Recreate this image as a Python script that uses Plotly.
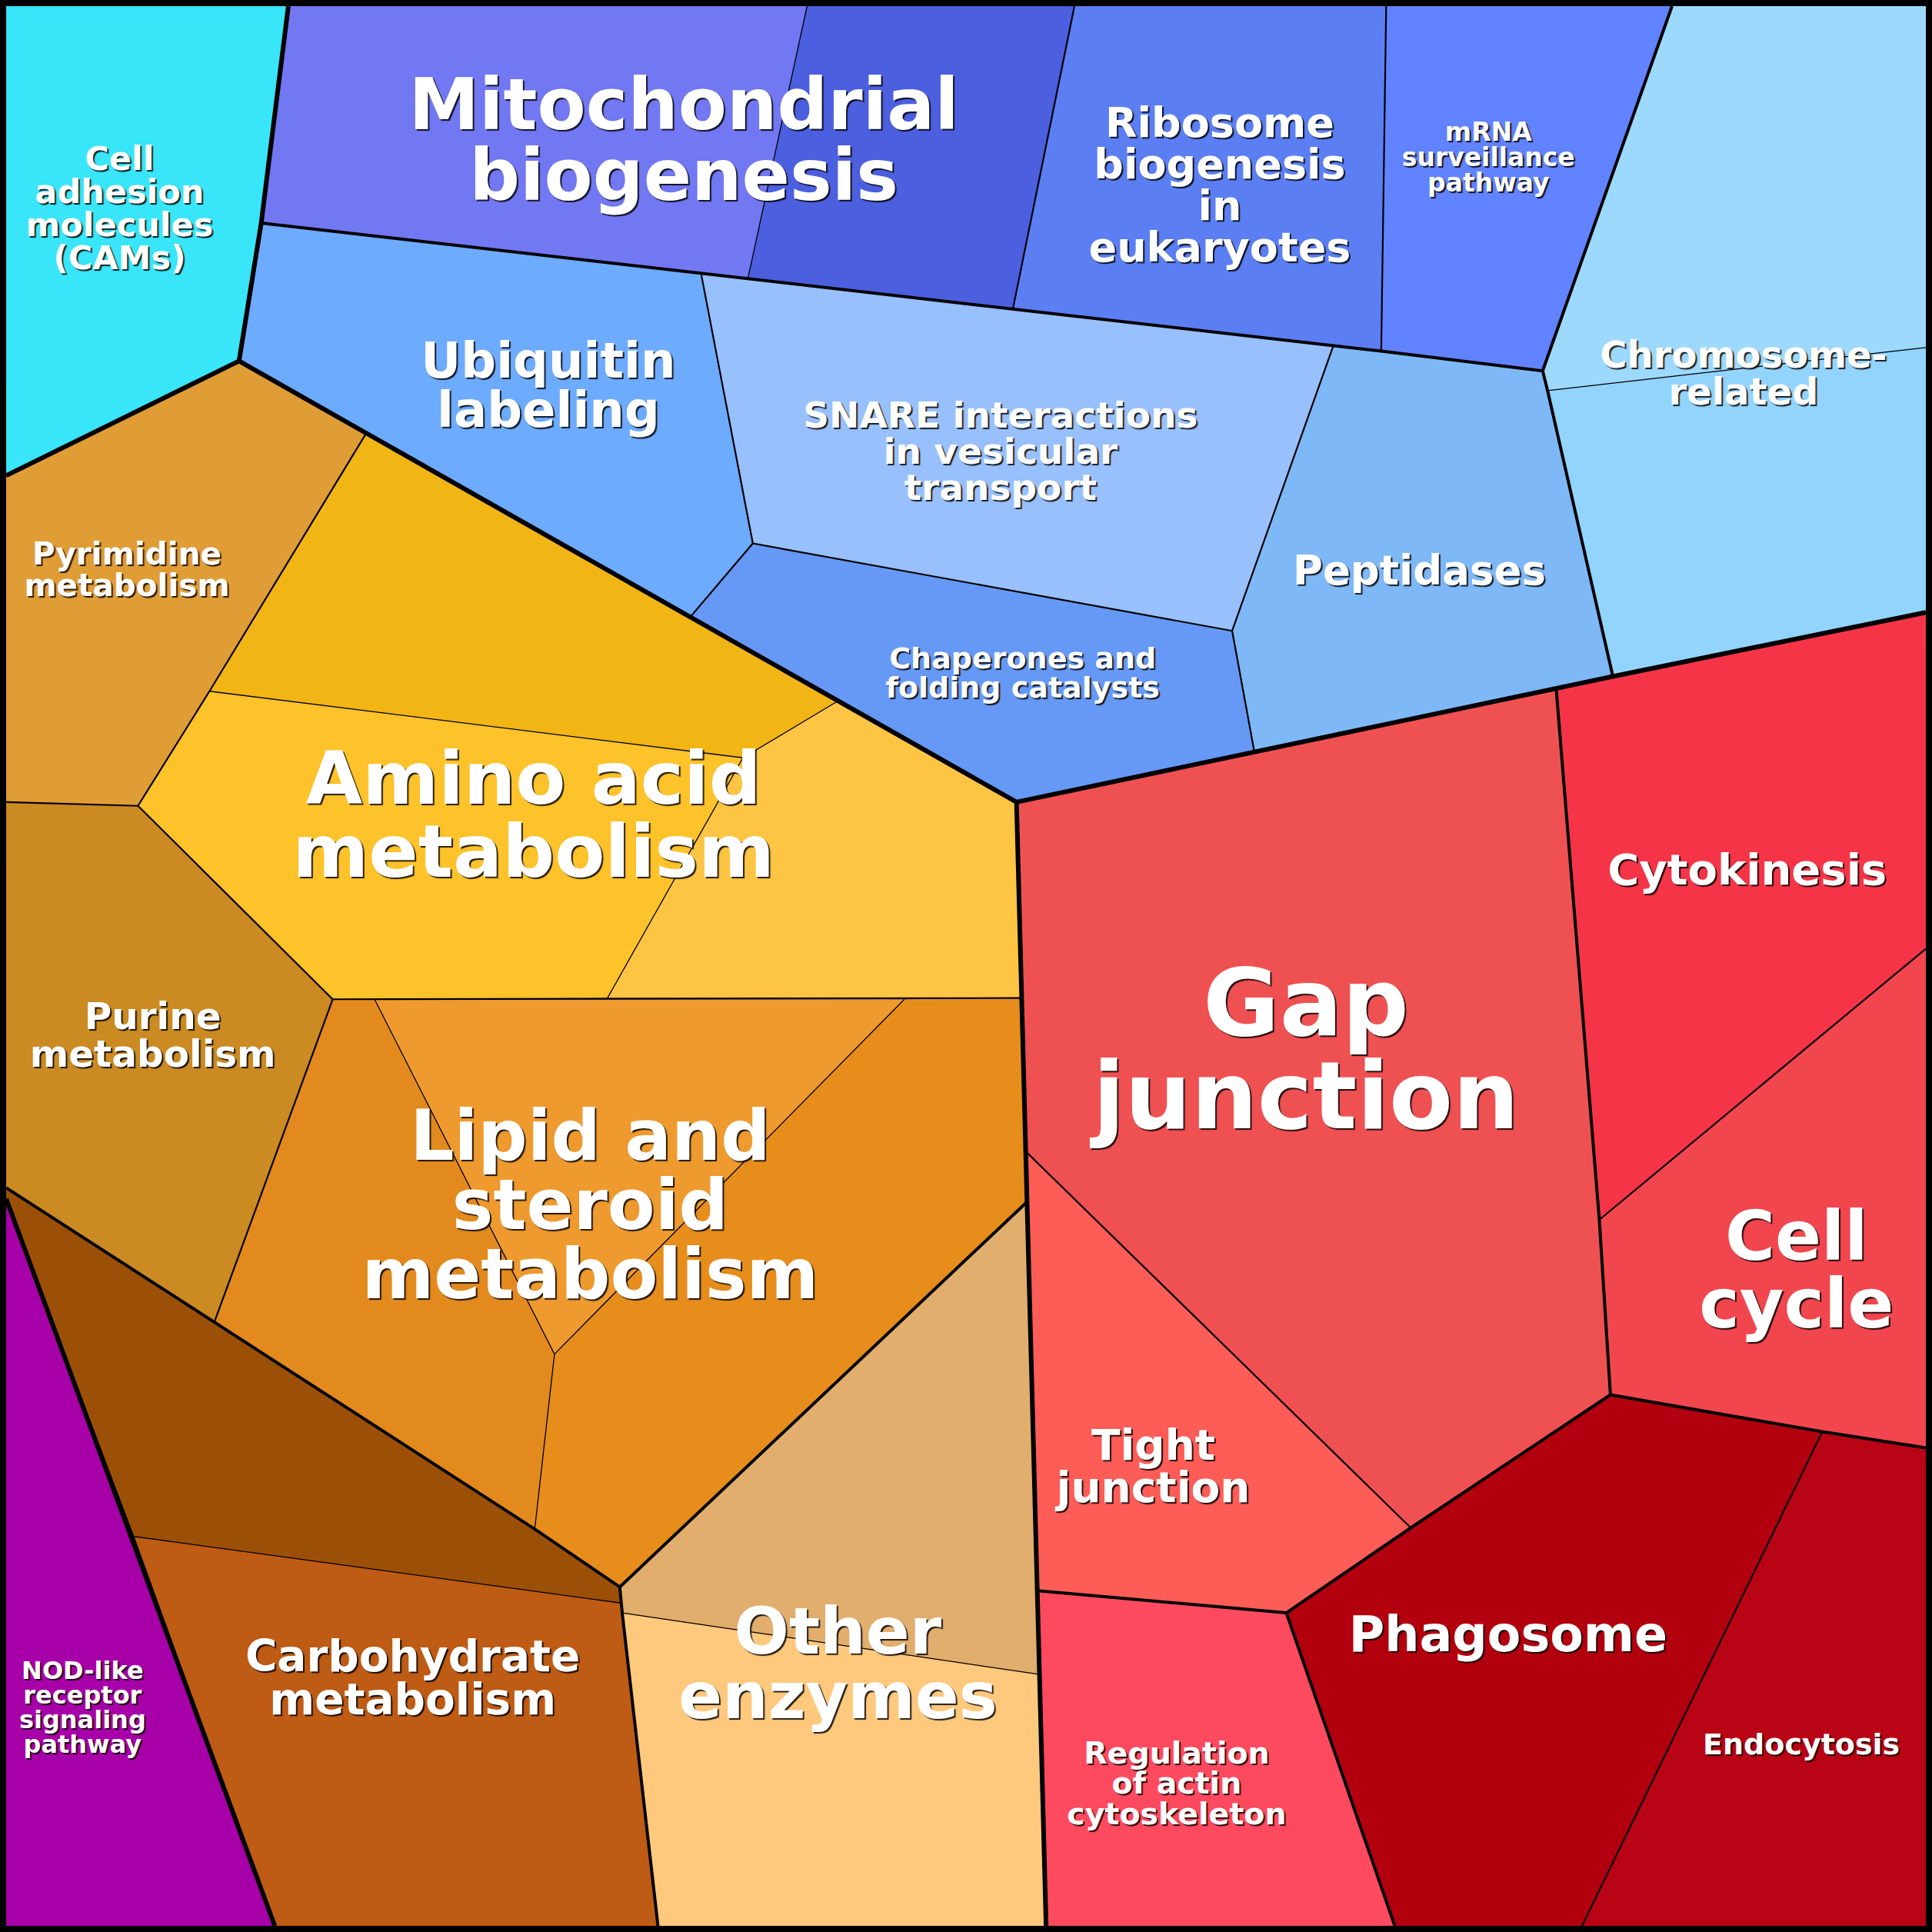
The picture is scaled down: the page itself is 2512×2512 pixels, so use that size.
import plotly.graph_objects as go

# cell corners, in a 1568 x 1568 frame (y grows downward)
pts = {
    "TL": (5, 5), "TR": (1563, 5), "BR": (1563, 1563), "BL": (5, 1563),
    "a1": (234, 5), "a2": (655, 5), "a3": (872, 5), "a4": (1125, 5), "a5": (1357, 5),
    "l1": (5, 386), "l2": (5, 651), "l3": (5, 964), "l4": (5, 973),
    "r1": (1563, 282), "r2": (1563, 497), "r3": (1563, 770), "r4": (1563, 1175),
    "b1": (223, 1563), "b2": (534, 1563), "b3": (849, 1563), "b4": (1132, 1563), "b5": (1284, 1563),
    "pB": (194, 293), "D": (212, 181),
    "m1": (607, 226), "m2": (822, 251), "m3": (1121, 285), "m4": (1252, 301),
    "s1": (569, 222), "s2": (1082, 281), "s3": (611, 441), "s4": (560, 501),
    "s5": (1000, 512), "s6": (1018, 610),
    "c1": (1256, 317), "c2": (1309, 549),
    "g0": (825, 651),
    "y1": (297, 352), "y2": (680, 569), "y3": (603, 615), "y4": (170, 561),
    "y5": (112, 654), "y6": (270, 811), "y7": (493, 810), "y8": (829, 810),
    "y9": (304, 811), "y10": (734, 811), "y11": (450, 1099), "y12": (434, 1241),
    "y13": (174, 1073), "y14": (503, 1288), "y15": (834, 975), "y16": (504, 1301),
    "y17": (109, 1247), "y18": (505, 1309), "y19": (844, 1359),
    "g1": (1263, 559), "g2": (1298, 990), "g3": (1307, 1132), "g4": (1145, 1240),
    "g5": (833, 935), "g6": (1044, 1309), "g7": (842, 1291), "g8": (1479, 1162),
}

cell_names = [
    "Cell adhesion molecules", "Mito 1", "Mito 2", "Ribosome", "mRNA",
    "Chromosome 1", "Chromosome 2", "Ubiquitin", "SNARE", "Chaperones", "Peptidases",
    "Pyrimidine", "Amino 1", "Amino 2", "Amino 3", "Purine",
    "Lipid 1", "Lipid 2", "Lipid 3", "Carbohydrate 1", "Carbohydrate 2",
    "Other 1", "Other 2", "NOD-like",
    "Gap junction", "Tight junction", "Cytokinesis", "Cell cycle",
    "Phagosome", "Endocytosis", "Regulation of actin",
]

cell_colors = [
    "#38E5F9", "#7277F2", "#4B5FDF", "#5B7FF3", "#6283FF",
    "#9DD9FC", "#93D4FD", "#6DABFF", "#98C0FC", "#6699F6", "#7EB8F6",
    "#E09D36", "#F2B516", "#FEC22A", "#FEC444", "#CB8A22",
    "#E38A1E", "#EE9A2E", "#E68D1C", "#9C5007", "#BE5B14",
    "#E1AE6E", "#FEC97D", "#A800A8",
    "#EF5152", "#FD5C57", "#F53547", "#F2464F",
    "#B2000F", "#B80414", "#FE4A5F",
]

cell_corners = [
    ["TL", "a1", "D", "pB", "l1"],
    ["a1", "a2", "m1", "D"],
    ["a2", "a3", "m2", "m1"],
    ["a3", "a4", "m3", "m2"],
    ["a4", "a5", "m4", "m3"],
    ["a5", "TR", "r1", "c1", "m4"],
    ["c1", "r1", "r2", "c2"],
    ["D", "s1", "s3", "s4", "pB"],
    ["s1", "m1", "m2", "s2", "s5", "s3"],
    ["s3", "s5", "s6", "g0", "s4"],
    ["s2", "m3", "m4", "c1", "c2", "s6", "s5"],
    ["l1", "pB", "y1", "y4", "y5", "l2"],
    ["y1", "y2", "y3", "y4"],
    ["y4", "y3", "y7", "y6", "y5"],
    ["y2", "g0", "y8", "y7", "y3"],
    ["l2", "y5", "y6", "y13", "l3"],
    ["y6", "y9", "y11", "y12", "y13"],
    ["y9", "y10", "y11"],
    ["y10", "y8", "y15", "y14", "y12", "y11"],
    ["l3", "y13", "y12", "y14", "y16", "y17", "l4"],
    ["y17", "y16", "b2", "b1"],
    ["y14", "y15", "y19", "y18"],
    ["y18", "y19", "b3", "b2"],
    ["l4", "b1", "BL"],
    ["g0", "g1", "g2", "g3", "g4", "g5"],
    ["g5", "g4", "g6", "g7"],
    ["g1", "r2", "r3", "g2"],
    ["g2", "r3", "r4", "g8", "g3"],
    ["g3", "g8", "b5", "b4", "g6", "g4"],
    ["g8", "r4", "BR", "b5"],
    ["g7", "g6", "b4", "b3"],
]

# borders between groups, by depth in the hierarchy (1 = top level)
borders = {
    1: [["pB", "l1"], ["a1", "D", "pB"], ["pB", "g0"], ["g0", "g1", "c2", "r2"],
        ["g0", "b3"], ["l4", "b1"]],
    2: [["D", "m1", "m2", "m3", "m4"], ["a5", "m4", "c1", "c2"],
        ["l3", "y13", "y12", "y14"], ["y14", "y15"], ["y14", "y16", "y18", "b2"],
        ["g1", "g2", "g3"], ["g3", "g4", "g6", "b4"], ["g3", "g8", "r4"], ["g7", "g6"]],
    3: [["a3", "m2"], ["a4", "m3"], ["s1", "s3"], ["s3", "s5"], ["s3", "s4"],
        ["s2", "s5"], ["s5", "s6"], ["y1", "y4", "y5"], ["l2", "y5"], ["y5", "y6"],
        ["y6", "y8"], ["y6", "y13"], ["g5", "g4"], ["g2", "r3"], ["g8", "b5"]],
    4: [["a2", "m1"], ["c1", "r1"], ["y4", "y3", "y2"], ["y3", "y7"],
        ["y9", "y11", "y12"], ["y11", "y10"], ["y17", "y16"], ["y18", "y19"]],
}
border_width = {1: 6, 2: 4, 3: 2.2, 4: 1.3}

label_text = [
    "Cell\nadhesion\nmolecules\n(CAMs)", "Mitochondrial\nbiogenesis",
    "Ribosome\nbiogenesis\nin\neukaryotes", "mRNA\nsurveillance\npathway",
    "Chromosome-\nrelated", "Ubiquitin\nlabeling",
    "SNARE interactions\nin vesicular\ntransport", "Peptidases",
    "Chaperones and\nfolding catalysts", "Pyrimidine\nmetabolism",
    "Amino acid\nmetabolism", "Purine\nmetabolism",
    "Lipid and\nsteroid\nmetabolism", "Carbohydrate\nmetabolism",
    "Other\nenzymes", "NOD-like\nreceptor\nsignaling\npathway",
    "Gap\njunction", "Cytokinesis", "Cell\ncycle", "Tight\njunction",
    "Phagosome", "Regulation\nof actin\ncytoskeleton", "Endocytosis",
]
label_xy = [
    (97, 169), (555, 115), (990, 150), (1208, 127), (1415, 303), (445, 313),
    (812, 366), (1152, 463), (830, 546), (103, 462), (433, 663), (124, 840),
    (479, 979), (335, 1362), (680, 1351), (67, 1385), (1060, 854), (1418, 706),
    (1458, 1032), (936, 1190), (1224, 1327), (955, 1447), (1462, 1415),
]
label_size = [43, 92, 54, 33, 48, 64, 47, 53, 38, 40.5, 95, 48.5,
              90, 56.5, 84, 32, 121, 56, 88.5, 55, 63.5, 39.5, 38]

SCALE = 2512 / 1568  # output pixels per frame unit

fig = go.Figure()

for name, color, corners in zip(cell_names, cell_colors, cell_corners):
    xs = [pts[k][0] for k in corners] + [pts[corners[0]][0]]
    ys = [pts[k][1] for k in corners] + [pts[corners[0]][1]]
    fig.add_trace(go.Scatter(
        name=name, x=xs, y=ys, mode="lines", fill="toself",
        fillcolor=color, line=dict(width=0, color=color), hoverinfo="skip",
    ))

for level in (4, 3, 2, 1):
    xs, ys = [], []
    for path in borders[level]:
        xs += [pts[k][0] for k in path] + [None]
        ys += [pts[k][1] for k in path] + [None]
    fig.add_trace(go.Scatter(
        x=xs, y=ys, mode="lines", hoverinfo="skip",
        line=dict(color="black", width=border_width[level]),
    ))

tx, ty, tt, ts = [], [], [], []
for text, (cx, cy), size in zip(label_text, label_xy, label_size):
    lines = text.split("\n")
    step = size * 1.0 / SCALE
    nudge = 1.5 + size * 0.03  # plotly sits "middle" text a touch high
    for i, line in enumerate(lines):
        tx.append(cx)
        ty.append(cy + nudge + (i - (len(lines) - 1) / 2) * step)
        tt.append(line)
        ts.append(size)

fig.add_trace(go.Scatter(
    x=tx, y=ty, text=tt, mode="text", textposition="middle center",
    hoverinfo="skip",
    textfont=dict(family="DejaVu Sans", weight="bold", size=ts, color="white",
                  shadow="2px 2px 1px rgba(0,0,0,0.85)"),
))

fig.update_layout(
    width=2512, height=2512,
    margin=dict(l=0, r=0, t=0, b=0),
    paper_bgcolor="black", plot_bgcolor="black",
    showlegend=False,
    xaxis=dict(range=[0, 1568], visible=False, fixedrange=True),
    yaxis=dict(range=[1568, 0], visible=False, fixedrange=True),
)

# drop the page's default body margin so the figure sits at the window corner
fig.write_html(
    "out.html",
    config={"displayModeBar": False},
    post_script="document.body.style.margin = '0';",
)
